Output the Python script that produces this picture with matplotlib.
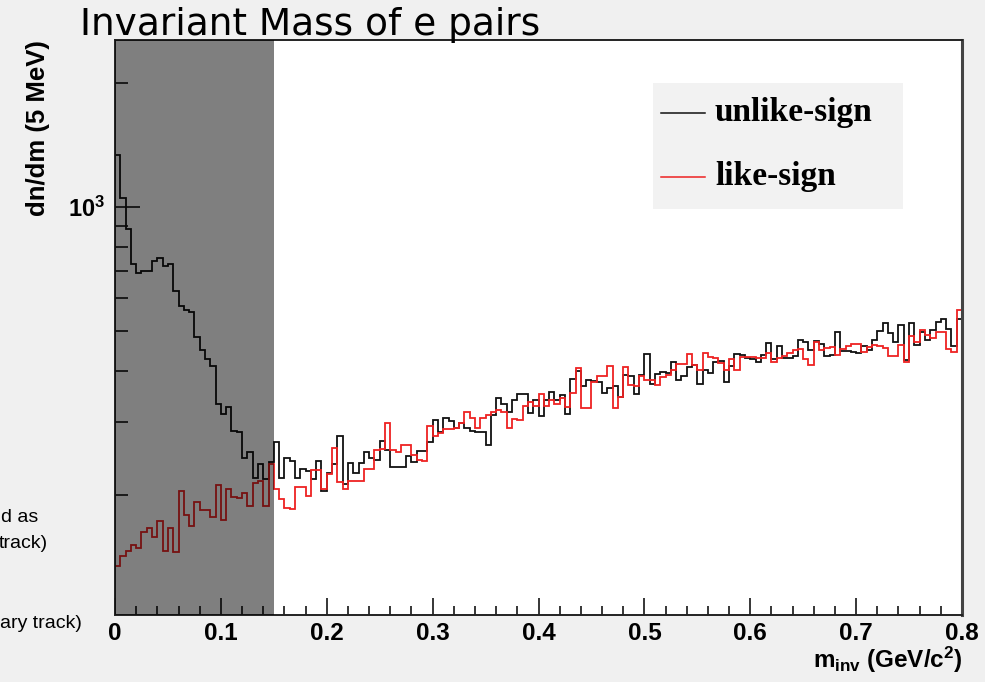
import numpy as np
import matplotlib
matplotlib.use("Agg")
import matplotlib.pyplot as plt
from matplotlib.ticker import FixedLocator, NullFormatter
from matplotlib.patches import Rectangle
from matplotlib.lines import Line2D

# histogram contents, 5 MeV bins from 0 to 0.8 GeV/c^2
bin_width = 0.005
m_min, m_max = 0.0, 0.8

unlike_sign = [
    1340, 1050, 885, 727, 690, 700, 700, 740, 750, 720,
    727, 626, 575, 562, 555, 482, 450, 428, 411, 333,
    314, 326, 286, 284, 245, 254, 220, 237, 218, 240,
    268, 219, 245, 242, 220, 231, 228, 218, 242, 204,
    226, 238, 277, 212, 239, 226, 239, 254, 246, 243,
    270, 257, 234, 234, 234, 248, 240, 255, 255, 268,
    304, 284, 307, 302, 291, 299, 291, 285, 284, 284,
    264, 313, 344, 333, 318, 340, 352, 352, 316, 339,
    310, 340, 356, 340, 350, 314, 382, 400, 367, 380,
    378, 376, 353, 364, 368, 346, 391, 389, 352, 391,
    440, 371, 393, 398, 395, 420, 379, 389, 408, 414,
    371, 402, 395, 421, 423, 375, 410, 440, 437, 430,
    427, 421, 437, 468, 427, 460, 430, 430, 435, 474,
    471, 448, 472, 465, 435, 437, 496, 447, 447, 445,
    442, 460, 450, 474, 500, 523, 494, 471, 518, 424,
    523, 463, 498, 476, 503, 524, 535, 505, 460, 535,
]

like_sign = [
    134, 142, 146, 151, 148, 162, 166, 158, 173, 146,
    166, 145, 204, 178, 168, 192, 184, 184, 176, 211,
    174, 206, 197, 196, 202, 188, 213, 216, 188, 237,
    206, 195, 186, 185, 209, 209, 198, 230, 229, 206,
    225, 260, 215, 206, 216, 216, 216, 231, 231, 257,
    258, 299, 257, 254, 264, 264, 250, 243, 242, 294,
    278, 283, 289, 289, 291, 298, 317, 307, 291, 307,
    313, 318, 322, 317, 291, 305, 303, 328, 335, 328,
    352, 329, 340, 333, 344, 327, 353, 407, 325, 325,
    376, 388, 389, 411, 325, 346, 409, 370, 367, 388,
    380, 380, 370, 387, 391, 402, 416, 416, 440, 414,
    402, 442, 433, 430, 418, 402, 427, 402, 432, 432,
    432, 430, 430, 442, 421, 430, 435, 442, 450, 452,
    427, 414, 471, 450, 455, 457, 437, 452, 460, 465,
    465, 443, 457, 463, 460, 455, 435, 435, 463, 421,
    486, 471, 503, 489, 481, 498, 498, 452, 443, 562,
]

cut_mass = 0.15
x_ticks = [0, 0.1, 0.2, 0.3, 0.4, 0.5, 0.6, 0.7, 0.8]
x_tick_labels = ["0", "0.1", "0.2", "0.3", "0.4", "0.5", "0.6", "0.7", "0.8"]
y_major = [1000]
y_minor = [200, 300, 400, 500, 600, 700, 800, 900, 2000]
legend_labels = ["unlike-sign", "like-sign"]

plt.rcParams["mathtext.fontset"] = "custom"
plt.rcParams["mathtext.rm"] = "Liberation Sans:bold"
plt.rcParams["mathtext.bf"] = "Liberation Sans:bold"
plt.rcParams["mathtext.it"] = "Liberation Sans:bold"

W, H = 985, 682
fig = plt.figure(figsize=(W / 100, H / 100), dpi=100, facecolor="#f0f0f0")


def px(x, y):
    # pixel position -> figure fraction
    return x / W, 1 - y / H


ax = fig.add_axes([115 / W, 1 - 615 / H, 847 / W, 575 / H])
ax.set_facecolor("white")

edges = np.arange(len(unlike_sign) + 1) * bin_width + m_min
ax.stairs(unlike_sign, edges, color="#111111", lw=1.3, baseline=None, zorder=2)
ax.stairs(like_sign, edges, color="#ee2222", lw=1.3, baseline=None, zorder=2)

# shaded region below the mass cut
ax.axvspan(m_min, cut_mass, color="black", alpha=0.5, lw=0, zorder=3)

ax.set_yscale("log")
ax.set_xlim(m_min, m_max)
ax.set_ylim(102, 2545)

ax.set_xticks(x_ticks, x_tick_labels)
ax.xaxis.set_minor_locator(FixedLocator(np.arange(0, 0.81, 0.02)))
ax.yaxis.set_major_locator(FixedLocator(y_major))
ax.set_yticklabels([r"$10^{3}$"])
ax.yaxis.set_minor_locator(FixedLocator(y_minor))
ax.yaxis.set_minor_formatter(NullFormatter())

ax.tick_params(axis="x", which="major", direction="in", length=12, width=1.1,
               pad=5, labelsize=17.5)
ax.tick_params(axis="x", which="minor", direction="in", length=6.5, width=1.1)
ax.tick_params(axis="y", which="major", direction="in", length=18, width=1.1,
               pad=7, labelsize=17)
ax.tick_params(axis="y", which="minor", direction="in", length=9.5, width=1.1)
for lab in ax.get_xticklabels() + ax.get_yticklabels():
    lab.set_fontfamily("Liberation Sans")
    lab.set_fontweight("bold")

for s in ax.spines.values():
    s.set_linewidth(1.4)
    s.set_color("#222222")
ax.spines["right"].set_linewidth(2.2)
ax.spines["right"].set_color("#444444")

# axis titles (ROOT style: aligned to axis ends)
fig.text(*px(38, 40), "dn/dm (5 MeV)", rotation=90, ha="center", va="top",
         fontsize=18.5, fontweight="bold", family="Liberation Sans")
fig.text(*px(962, 660), r"$m_{inv}$ (GeV/c$^{2}$)", ha="right", va="center",
         fontsize=17.5, fontweight="bold", family="Liberation Sans")

fig.text(*px(80, 35), "Invariant Mass of e pairs", ha="left", va="baseline",
         fontsize=27, family="DejaVu Sans", color="black")

# legend box
fig.patches.append(Rectangle(px(653, 209), 250 / W, 126 / H,
                             transform=fig.transFigure, facecolor="#f2f2f2",
                             edgecolor="none", zorder=5))
for label, col, ly, ty in [(legend_labels[0], "#111111", 112.5, 121.5),
                           (legend_labels[1], "#ee2222", 176.5, 185)]:
    x0, y0 = px(661, ly)
    x1, _ = px(705, ly)
    fig.lines.append(Line2D([x0, x1], [y0, y0], transform=fig.transFigure,
                            color=col, lw=1.1, zorder=6))
    fig.text(*px(715, ty), label, ha="left", va="baseline", fontsize=24,
             fontweight="bold", family="Liberation Serif", zorder=6)

# cut-off slide text on the left
for txt, xr, yc in [("d as", 38, 518), ("track)", 48, 543), ("ary track)", 82, 623)]:
    fig.text(*px(xr, yc), txt, ha="right", va="center", fontsize=14,
             family="Liberation Sans", color="black")

fig.savefig("out.png", dpi=100, facecolor=fig.get_facecolor())
